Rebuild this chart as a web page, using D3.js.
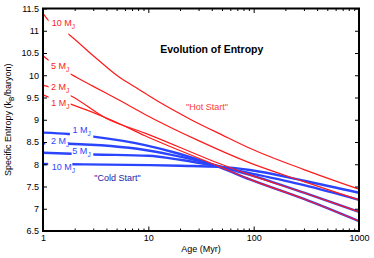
<!DOCTYPE html>
<html>
<head>
<meta charset="utf-8">
<title>Evolution of Entropy</title>
<script src="https://cdn.jsdelivr.net/npm/d3@7"></script>
<style>
    body { margin: 0; background: #fff; }
    svg { display: block; font-family: "Liberation Sans", Arial, Helvetica, sans-serif; }
</style>
</head>
<body>
<svg></svg>
<script>
    const width = 374;
    const height = 258;
    const padding = { top: 8.5, right: 15, bottom: 27, left: 43 };

    // planet masses (Jupiter masses)
    const masses = ["10", "5", "2", "1"];

    // "hot start" tracks: [age (Myr), entropy (kB/baryon)]
    const hot10 = [[1, 11.39], [1.1, 11.26], [1.75, 10.92], [3, 10.44], [5.2, 9.97], [8.3, 9.67], [10.4, 9.52], [26, 8.99], [50, 8.66], [92, 8.36], [300, 7.88], [1000, 7.44]];
    const hot5 = [[1, 10.44], [1.1, 10.36], [1.83, 10.03], [3, 9.75], [5, 9.47], [9.3, 9.12], [30, 8.53], [92, 8.03], [300, 7.61], [1000, 7.20]];
    const hot2 = [[1, 9.78], [1.1, 9.75], [1.83, 9.54], [4, 9.03], [9.3, 8.70], [48, 8.01], [92, 7.76], [300, 7.36], [1000, 6.93]];
    const hot1 = [[1, 9.56], [1.1, 9.52], [1.83, 9.35], [4.5, 8.99], [9.3, 8.64], [48, 7.94], [92, 7.66], [300, 7.22], [1000, 6.72]];

    // "cold start" tracks
    const cold10 = [[1, 8.005], [1.9, 8.0], [10.4, 7.98], [20, 7.965], [48, 7.94], [92, 7.87], [300, 7.63], [1000, 7.36]];
    const cold5 = [[1, 8.26], [3, 8.22], [10, 8.19], [20, 8.10], [48, 7.94], [92, 7.80], [300, 7.53], [1000, 7.20]];
    const cold2 = [[1, 8.47], [1.75, 8.46], [9.3, 8.32], [20, 8.17], [48, 7.95], [92, 7.76], [300, 7.36], [1000, 6.93]];
    const cold1 = [[1, 8.71], [1.75, 8.68], [3, 8.62], [9.3, 8.43], [20, 8.23], [48, 7.93], [92, 7.66], [300, 7.22], [1000, 6.72]];

    const hotTracks = [hot10, hot5, hot2, hot1];
    const coldTracks = [cold10, cold5, cold2, cold1];

    // age ranges where each track is interrupted by its label
    const hotGaps = [[1.13, 1.74], [1.13, 1.83], [1.13, 1.83], [1.13, 1.83]];
    const coldGaps = [[1.12, 1.9], [1.87, 3.0], [1.05, 1.74], [1.8, 3.0]];

    // axis ticks
    const xTicks = [1, 10, 100, 1000];
    const xMinor = [2, 3, 4, 5, 6, 7, 8, 9, 20, 30, 40, 50, 60, 70, 80, 90, 200, 300, 400, 500, 600, 700, 800, 900];
    const yTicks = [6.5, 7, 7.5, 8, 8.5, 9, 9.5, 10, 10.5, 11, 11.5];

    // label anchors in data units [age, entropy]
    const hotLabelAt = [[1.21, 11.10], [1.19, 10.14], [1.19, 9.66], [1.20, 9.30]];
    const coldLabelAt = [[1.21, 7.87], [1.90, 8.22], [1.19, 8.455], [1.91, 8.70]];

    const red = "#ff1a1a";
    const blue = "#2b45ff";

    let svg = d3.select("svg")
        .attr("width", width)
        .attr("height", height);

    let xScale = d3.scaleLog()
        .domain([1, 1000])
        .range([padding.left, width - padding.right]);

    let yScale = d3.scaleLinear()
        .domain([6.5, 11.5])
        .range([height - padding.bottom, padding.top]);

    let linePath = d3.line()
        .x((d) => xScale(d[0]))
        .y((d) => yScale(d[1]))
        .curve(d3.curveMonotoneX);

    let defs = svg.append("defs");

    // one clip per track: everything but the vertical band of its gap
    function gapClip(id, gap) {
        let cp = defs.append("clipPath").attr("id", id);
        cp.append("rect")
            .attr("x", 0).attr("y", 0)
            .attr("width", xScale(gap[0]))
            .attr("height", height);
        cp.append("rect")
            .attr("x", xScale(gap[1])).attr("y", 0)
            .attr("width", width - xScale(gap[1]))
            .attr("height", height);
        return "url(#" + id + ")";
    }

    let lines = svg.append("g");

    lines.selectAll("path.cold")
        .data(coldTracks)
        .enter()
        .append("path")
        .attr("class", "cold")
        .attr("d", (d) => linePath(d))
        .attr("clip-path", (d, i) => gapClip("cgap" + i, coldGaps[i]))
        .attr("fill", "none")
        .attr("stroke", blue)
        .attr("stroke-width", 2.4);

    lines.selectAll("path.hot")
        .data(hotTracks)
        .enter()
        .append("path")
        .attr("class", "hot")
        .attr("d", (d) => linePath(d))
        .attr("clip-path", (d, i) => gapClip("hgap" + i, hotGaps[i]))
        .attr("fill", "none")
        .attr("stroke", red)
        .attr("stroke-width", 1.2);

    function massLabel(pos, text, color) {
        let t = svg.append("text")
            .attr("x", xScale(pos[0]))
            .attr("y", yScale(pos[1]))
            .attr("font-size", 9)
            .attr("fill", color)
            .text(text + " M");
        t.append("tspan")
            .attr("font-size", 6.5)
            .attr("dy", 2.6)
            .text("J");
    }

    masses.forEach((m, i) => massLabel(hotLabelAt[i], m, red));
    masses.forEach((m, i) => massLabel(coldLabelAt[i], m, blue));

    svg.append("text")
        .attr("x", xScale(36))
        .attr("y", yScale(9.22))
        .attr("text-anchor", "middle")
        .attr("font-size", 9)
        .attr("fill", "#ff3b3b")
        .text("\"Hot Start\"");

    svg.append("text")
        .attr("x", xScale(5.1))
        .attr("y", yScale(7.63))
        .attr("text-anchor", "middle")
        .attr("font-size", 9)
        .attr("fill", "#2323a8")
        .text("\"Cold Start\"");

    svg.append("text")
        .attr("x", xScale(40))
        .attr("y", yScale(10.5))
        .attr("text-anchor", "middle")
        .attr("font-size", 10.5)
        .attr("font-weight", "bold")
        .text("Evolution of Entropy");

    // axes, ticks pointing inward
    const innerH = height - padding.top - padding.bottom;
    const innerW = width - padding.left - padding.right;

    function tidy(g) {
        g.select(".domain").remove();
        g.attr("font-family", null).attr("font-size", 9);
        g.selectAll("line").attr("stroke", "#000").attr("stroke-width", 1);
    }

    svg.append("g")
        .attr("transform", "translate(0," + (height - padding.bottom) + ")")
        .call(d3.axisBottom(xScale).tickValues(xTicks).tickFormat(d3.format("d")).tickSize(-4.5).tickPadding(4))
        .call(tidy);
    svg.append("g")
        .attr("transform", "translate(0," + (height - padding.bottom) + ")")
        .call(d3.axisBottom(xScale).tickValues(xMinor).tickFormat("").tickSize(-2.5))
        .call(tidy);
    svg.append("g")
        .attr("transform", "translate(0," + padding.top + ")")
        .call(d3.axisTop(xScale).tickValues(xTicks).tickFormat("").tickSize(-4.5))
        .call(tidy);
    svg.append("g")
        .attr("transform", "translate(0," + padding.top + ")")
        .call(d3.axisTop(xScale).tickValues(xMinor).tickFormat("").tickSize(-2.5))
        .call(tidy);
    svg.append("g")
        .attr("transform", "translate(" + padding.left + ",0)")
        .call(d3.axisLeft(yScale).tickValues(yTicks).tickFormat(d3.format("")).tickSize(-4).tickPadding(4))
        .call(tidy);
    svg.append("g")
        .attr("transform", "translate(" + (width - padding.right) + ",0)")
        .call(d3.axisRight(yScale).tickValues(yTicks).tickFormat("").tickSize(-4))
        .call(tidy);

    svg.append("rect")
        .attr("x", padding.left)
        .attr("y", padding.top)
        .attr("width", innerW)
        .attr("height", innerH)
        .attr("fill", "none")
        .attr("stroke", "#000")
        .attr("stroke-width", 2);

    svg.append("text")
        .attr("x", padding.left + innerW / 2)
        .attr("y", height - 6.5)
        .attr("text-anchor", "middle")
        .attr("font-size", 9)
        .text("Age (Myr)");

    let yLabel = svg.append("text")
        .attr("transform", "translate(11," + (padding.top + innerH / 2) + ") rotate(-90)")
        .attr("text-anchor", "middle")
        .attr("font-size", 9)
        .text("Specific Entropy (k");
    yLabel.append("tspan").attr("font-size", 6.5).attr("dy", 2.5).text("B");
    yLabel.append("tspan").attr("dy", -2.5).text("/baryon)");
</script>
</body>
</html>
